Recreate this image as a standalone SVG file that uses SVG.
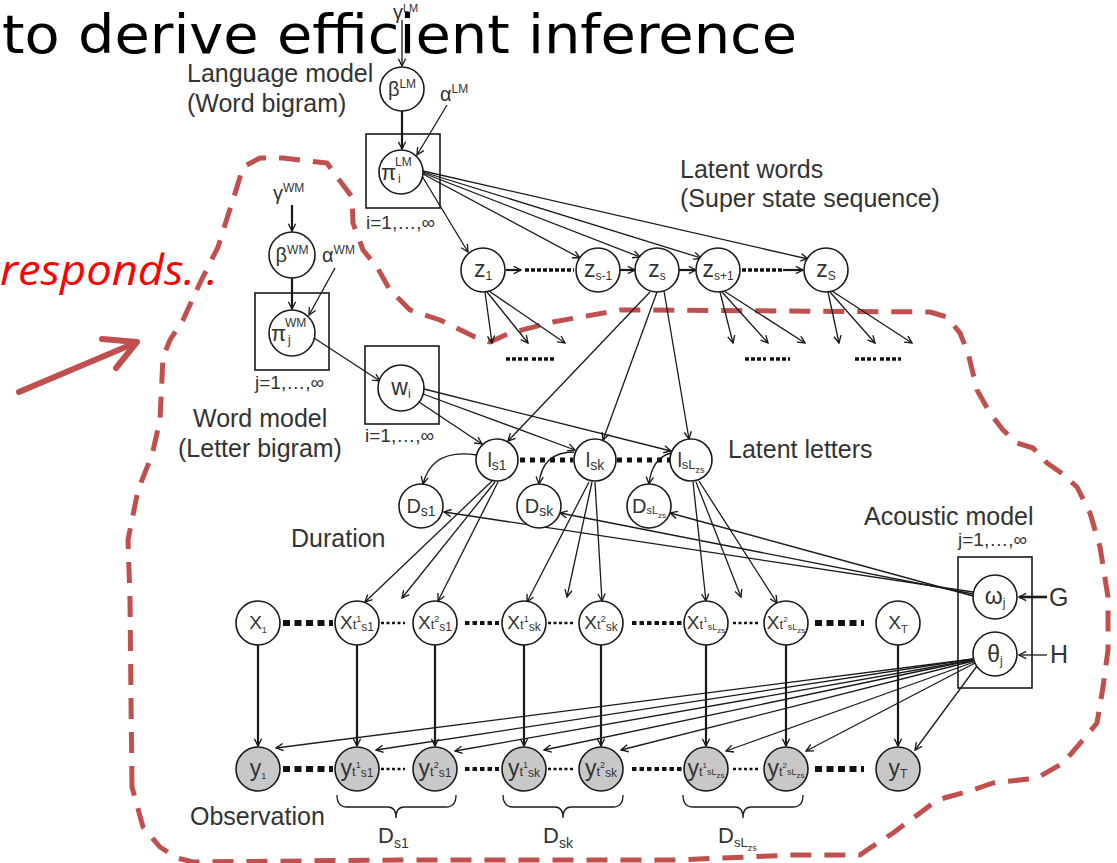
<svg xmlns="http://www.w3.org/2000/svg" width="1117" height="863" viewBox="0 0 1117 863">
<style>
.t{font-family:"Liberation Sans",Arial,sans-serif;fill:#333}
.lbl{font-size:25px}
.n{font-size:20px}
.z{font-size:23px}
.sm{font-size:19px}
.f13{font-size:13px}.f11{font-size:11px}.f12{font-size:12px}.f9{font-size:9px}.f8{font-size:8px}.f14{font-size:14px}
.c{fill:#fff;stroke:#1a1a1a;stroke-width:1.6}
.g{fill:#c8c8c8;stroke:#1a1a1a;stroke-width:1.6}
.box{fill:none;stroke:#1a1a1a;stroke-width:1.6}
.e{fill:none;stroke:#1a1a1a;stroke-width:1.3;marker-end:url(#ah)}
.ek{fill:none;stroke:#1a1a1a;stroke-width:2.2;marker-end:url(#ah)}
.l{fill:none;stroke:#1a1a1a;stroke-width:1.3}
.dk{stroke:#111;stroke-width:6;stroke-dasharray:7 4.5}
.dm{stroke:#111;stroke-width:4;stroke-dasharray:4.5 3}
.ds{stroke:#111;stroke-width:2.5;stroke-dasharray:3 2.5}
.dz{stroke:#111;stroke-width:3.5;stroke-dasharray:4 2}
.red{fill:none;stroke:#c0504d;stroke-width:5;stroke-dasharray:21 13;stroke-linejoin:round}
</style>
<defs>
<marker id="ah" viewBox="0 0 10 10" refX="9" refY="5" markerWidth="9" markerHeight="9" markerUnits="userSpaceOnUse" orient="auto"><path d="M1,1 L9,5 L1,9" fill="none" stroke="#1a1a1a" stroke-width="1.5"/></marker>
</defs>
<rect width="1117" height="863" fill="#fff"/>

<!-- red dashed outline -->
<path class="red" d="M132,787 L131,700 L130,600 L128,540 L138,490 L152,455 L160,420 L163,357 L170,340 L183,320 L200,283 L218,247 L237,187 L243,167 L260,158 L283,158 L327,163 L337,177 L352,197 L353,223 L363,250 L377,267 L390,290 L410,310 L440,320 L475,337 L490,342 L510,333 L553,322 L620,310 L653,310 L930,312 L947,317 L960,333 L968,353 L977,390 L990,413 L1003,430 L1017,443 L1033,448 L1047,463 L1060,472 L1077,487 L1090,513 L1100,547 L1108,597 L1108,650 L1103,687 L1097,723 L1083,740 L1063,763 L1037,778 L993,783 L973,790 L937,800 L920,813 L893,833 L867,850 L860,855 L793,855 L677,860 L400,860 L193,862 L177,858 L160,847 L143,827 Z"/>
<g id="red-arrow" fill="none" stroke="#c0504d" stroke-width="6" stroke-linecap="round" stroke-linejoin="round">
<path d="M19,392 L135,343"/><path d="M102,339 L137,342 L116,368"/>
</g>

<!-- connectors -->
<g id="connectors">
<path class="e" d="M402,20 L402,66"/>
<path class="ek" d="M402,111 L402,149"/>
<path class="e" d="M447,105 L417,155"/>
<path class="e" d="M422,176 L468,252"/>
<path class="e" d="M423,174 L580,258"/>
<path class="e" d="M423,173 L640,257"/>
<path class="e" d="M423,172 L701,258"/>
<path class="e" d="M423,171 L808,259"/>
<path class="e" d="M485,292 L492,343"/><path class="e" d="M487,292 L528,343"/><path class="e" d="M489,291 L565,343"/>
<path class="e" d="M720,292 L733,343"/><path class="e" d="M722,292 L768,343"/><path class="e" d="M724,291 L805,343"/>
<path class="e" d="M828,292 L839,343"/><path class="e" d="M830,292 L875,343"/><path class="e" d="M832,291 L912,343"/>
<path class="dz" d="M506,359 L528,359 M532,359 L554,359"/><path class="dz" d="M745,359 L766,359 M770,359 L790,359"/><path class="dz" d="M855,359 L876,359 M880,359 L901,359"/>
<path class="ek" d="M506,270 L521,270"/>
<path class="dz" d="M525,270 L574,270"/>
<path class="ek" d="M620,270 L635,270"/>
<path class="ek" d="M679,270 L696,270"/>
<path class="dz" d="M742,270 L783,270"/>
<path class="ek" d="M783,270 L803,270"/>
<path class="e" d="M650,292 L508,441"/><path class="e" d="M657,292 L603,440"/><path class="e" d="M664,291 L689,439"/>
<path class="ek" d="M292,205 L292,231"/>
<path class="ek" d="M292,278 L292,309"/>
<path class="e" d="M335,268 L309,315"/>
<path class="e" d="M314,338 L380,381"/>
<path class="e" d="M419,402 L482,444"/>
<path class="e" d="M423,394 L575,450"/>
<path class="e" d="M424,389 L671,451"/>
<path class="e" d="M477,455 Q432,448 423,484"/>
<path class="e" d="M574,452 Q542,452 539,484"/>
<path class="e" d="M671,453 Q652,458 649,484"/>
<path d="M520,460 L573,460" style="stroke:#111;stroke-width:5;stroke-dasharray:5 5"/>
<path d="M617,460 L670,460" style="stroke:#111;stroke-width:5;stroke-dasharray:5 5"/>
<path class="e" d="M492,481 L365,602"/><path class="e" d="M495,482 L402,598"/><path class="e" d="M498,482 L438,601"/>
<path class="e" d="M589,482 L527,602"/><path class="e" d="M592,482 L567,597"/><path class="e" d="M595,482 L602,601"/>
<path class="e" d="M693,482 L706,601"/><path class="e" d="M696,482 L741,597"/><path class="e" d="M699,481 L777,603"/>
<path class="e" d="M973,592 L444,512"/>
<path class="e" d="M973,594 L560,513"/>
<path class="e" d="M973,596 L670,513"/>
<path class="dk" d="M283,623 L333,623"/><path class="ds" d="M381,623 L405,623"/><path class="dm" d="M465,623 L499,623"/><path class="ds" d="M548,623 L573,623"/><path class="dm" d="M632,623 L682,623"/><path class="ds" d="M733,623 L759,623"/><path class="dk" d="M815,623 L864,623"/>
<path class="dk" d="M283,769 L333,769"/><path class="ds" d="M381,769 L405,769"/><path class="dm" d="M465,769 L499,769"/><path class="ds" d="M548,769 L573,769"/><path class="dm" d="M632,769 L682,769"/><path class="ds" d="M733,769 L759,769"/><path class="dk" d="M815,769 L864,769"/>
<path class="ek" d="M258,645 L258,746"/><path class="ek" d="M357,645 L357,746"/><path class="ek" d="M435,645 L435,746"/><path class="ek" d="M524,645 L524,746"/><path class="ek" d="M601,645 L601,746"/><path class="ek" d="M706,645 L706,746"/><path class="ek" d="M786,645 L786,746"/><path class="ek" d="M898,645 L898,746"/>
<path class="e" d="M973,659 L276,748"/>
<path class="e" d="M973,659 L376,750"/>
<path class="e" d="M973,660 L455,751"/>
<path class="e" d="M973,660 L544,750"/>
<path class="e" d="M973,661 L621,750"/>
<path class="e" d="M974,662 L726,751"/>
<path class="e" d="M975,663 L806,751"/>
<path class="e" d="M977,666 L915,750"/>
<path class="ek" d="M1047,597 L1019,597" style="stroke-width:2.6"/>
<path class="e" d="M1047,655 L1019,655"/>
<path class="l" d="M337,795 Q337,807 347,807 L388,807 Q396,807 396,818 Q396,807 404,807 L446,807 Q456,807 456,795"/>
<path class="l" d="M503,795 Q503,807 513,807 L555,807 Q563,807 563,818 Q563,807 571,807 L613,807 Q623,807 623,795"/>
<path class="l" d="M683,795 Q683,807 693,807 L735,807 Q743,807 743,818 Q743,807 751,807 L793,807 Q803,807 803,795"/>
</g>

<!-- Language model -->
<g id="gammaLM"><text class="t n" x="393" y="19">γ<tspan class="f11" dy="-7">LM</tspan></text></g>
<g id="betaLM"><circle class="c" cx="402" cy="89" r="22"/><text class="t n" x="402" y="96" text-anchor="middle">β<tspan class="f12" dy="-8">LM</tspan></text></g>
<g id="alphaLM"><text class="t n" x="440" y="101">α<tspan class="f12" dy="-8">LM</tspan></text></g>
<g id="piLM"><rect class="box" x="366" y="134" width="74" height="74"/><circle class="c" cx="401" cy="172" r="22"/>
<text class="t" x="381" y="180" font-size="22">π</text><text class="t f12" x="395" y="166">LM</text><text class="t f12" x="398" y="183">i</text>
<text class="t sm" x="366" y="229">i=1,…,∞</text></g>
<g id="lm-label"><text class="t lbl" x="187" y="82">Language model</text><text class="t lbl" x="187" y="112">(Word bigram)</text></g>

<!-- latent words -->
<g id="z1"><circle class="c" cx="483" cy="270" r="22"/><text class="t z" x="483" y="277" text-anchor="middle">z<tspan class="f12" dy="3">1</tspan></text></g>
<g id="zs-1"><circle class="c" cx="598" cy="270" r="22"/><text class="t z" x="598" y="277" text-anchor="middle">z<tspan class="f12" dy="3">s-1</tspan></text></g>
<g id="zs"><circle class="c" cx="657" cy="270" r="22"/><text class="t z" x="657" y="277" text-anchor="middle">z<tspan class="f12" dy="3">s</tspan></text></g>
<g id="zs+1"><circle class="c" cx="718" cy="270" r="22"/><text class="t z" x="718" y="277" text-anchor="middle">z<tspan class="f12" dy="3">s+1</tspan></text></g>
<g id="zS"><circle class="c" cx="826" cy="270" r="22"/><text class="t z" x="826" y="277" text-anchor="middle">z<tspan class="f12" dy="3">S</tspan></text></g>
<g id="lw-label"><text class="t lbl" x="680" y="178">Latent words</text><text class="t lbl" x="680" y="207">(Super state sequence)</text></g>

<!-- Word model -->
<g id="gammaWM"><text class="t n" x="273" y="200">γ<tspan class="f12" dy="-8">WM</tspan></text></g>
<g id="betaWM"><circle class="c" cx="292" cy="255" r="23"/><text class="t n" x="292" y="262" text-anchor="middle">β<tspan class="f12" dy="-8">WM</tspan></text></g>
<g id="alphaWM"><text class="t n" x="322" y="262">α<tspan class="f12" dy="-8">WM</tspan></text></g>
<g id="piWM"><rect class="box" x="255" y="293" width="74" height="77"/><circle class="c" cx="292" cy="333" r="23"/>
<text class="t" x="271" y="341" font-size="22">π</text><text class="t f12" x="285" y="327">WM</text><text class="t f12" x="288" y="344">j</text>
<text class="t sm" x="255" y="389">j=1,…,∞</text></g>
<g id="wm-label"><text class="t lbl" x="193" y="427">Word model</text><text class="t lbl" x="178" y="457">(Letter bigram)</text></g>
<g id="wi"><rect class="box" x="365" y="346" width="74" height="78"/><circle class="c" cx="401" cy="388" r="23"/><text class="t z" x="401" y="395" text-anchor="middle">w<tspan class="f12" dy="3">i</tspan></text>
<text class="t sm" x="365" y="442">i=1,…,∞</text></g>

<!-- latent letters -->
<g id="ls1"><circle class="c" cx="497" cy="460" r="21"/><text class="t n" x="497" y="467" text-anchor="middle">l<tspan class="f14" dy="3">s1</tspan></text></g>
<g id="lsk"><circle class="c" cx="595" cy="460" r="21"/><text class="t n" x="595" y="467" text-anchor="middle">l<tspan class="f14" dy="3">sk</tspan></text></g>
<g id="lsL"><circle class="c" cx="691" cy="460" r="21"/><text class="t n" x="691" y="467" text-anchor="middle">l<tspan class="f13" dy="2">sL</tspan><tspan class="f9" dy="4">zs</tspan></text></g>
<g id="ll-label"><text class="t lbl" x="728" y="458">Latent letters</text></g>
<g id="Ds1"><circle class="c" cx="421" cy="506" r="22"/><text class="t n" x="421" y="513" text-anchor="middle">D<tspan class="f14" dy="3">s1</tspan></text></g>
<g id="Dsk"><circle class="c" cx="539" cy="506" r="22"/><text class="t n" x="539" y="513" text-anchor="middle">D<tspan class="f14" dy="3">sk</tspan></text></g>
<g id="DsL"><circle class="c" cx="649" cy="506" r="22"/><text class="t n" x="649" y="513" text-anchor="middle">D<tspan class="f11" dy="1">sL</tspan><tspan class="f8" dy="4">zs</tspan></text></g>
<g id="dur-label"><text class="t lbl" x="291" y="547">Duration</text></g>

<!-- acoustic model -->
<g id="acoustic"><text class="t lbl" x="864" y="525">Acoustic model</text><text class="t sm" x="958" y="546">j=1,…,∞</text>
<rect class="box" x="958" y="557" width="74" height="131"/></g>
<g id="omega"><circle class="c" cx="995" cy="597" r="22"/><text class="t z" x="995" y="604" text-anchor="middle">ω<tspan class="f12" dy="3">j</tspan></text></g>
<g id="theta"><circle class="c" cx="995" cy="654" r="22"/><text class="t z" x="995" y="662" text-anchor="middle">θ<tspan class="f12" dy="3">j</tspan></text></g>
<g id="G"><text class="t lbl" x="1049" y="606">G</text></g>
<g id="H"><text class="t lbl" x="1050" y="663">H</text></g>

<!-- X row -->
<g id="x1"><circle class="c" cx="258" cy="623" r="22"/><text class="t" x="258" y="629" font-size="19" text-anchor="middle">X<tspan class="f9" dy="4">1</tspan></text></g>
<g id="xt1s1"><circle class="c" cx="357" cy="623" r="22"/><text class="t" x="357" y="629" font-size="19" text-anchor="middle">X<tspan class="f13">t</tspan><tspan class="f9" dy="-7">1</tspan><tspan class="f12" dy="9">s1</tspan></text></g>
<g id="xt2s1"><circle class="c" cx="435" cy="623" r="22"/><text class="t" x="435" y="629" font-size="19" text-anchor="middle">X<tspan class="f13">t</tspan><tspan class="f9" dy="-7">2</tspan><tspan class="f12" dy="9">s1</tspan></text></g>
<g id="xt1sk"><circle class="c" cx="524" cy="623" r="22"/><text class="t" x="524" y="629" font-size="19" text-anchor="middle">X<tspan class="f13">t</tspan><tspan class="f9" dy="-7">1</tspan><tspan class="f12" dy="9">sk</tspan></text></g>
<g id="xt2sk"><circle class="c" cx="601" cy="623" r="22"/><text class="t" x="601" y="629" font-size="19" text-anchor="middle">X<tspan class="f13">t</tspan><tspan class="f9" dy="-7">2</tspan><tspan class="f12" dy="9">sk</tspan></text></g>
<g id="xt1sL"><circle class="c" cx="706" cy="623" r="22"/><text class="t" x="706" y="629" font-size="19" text-anchor="middle">X<tspan class="f13">t</tspan><tspan class="f8" dy="-7">1</tspan><tspan class="f9" dy="8">sL</tspan><tspan class="f8" dy="3">zs</tspan></text></g>
<g id="xt2sL"><circle class="c" cx="786" cy="623" r="22"/><text class="t" x="786" y="629" font-size="19" text-anchor="middle">X<tspan class="f13">t</tspan><tspan class="f8" dy="-7">2</tspan><tspan class="f9" dy="8">sL</tspan><tspan class="f8" dy="3">zs</tspan></text></g>
<g id="xT"><circle class="c" cx="898" cy="623" r="22"/><text class="t" x="898" y="629" font-size="19" text-anchor="middle">X<tspan class="f11" dy="4">T</tspan></text></g>

<!-- y row -->
<g id="y1"><circle class="g" cx="258" cy="769" r="22"/><text class="t" x="258" y="776" font-size="23" text-anchor="middle">y<tspan class="f9" dy="3">1</tspan></text></g>
<g id="yt1s1"><circle class="g" cx="357" cy="769" r="22"/><text class="t" x="357" y="776" font-size="23" text-anchor="middle">y<tspan class="f13">t</tspan><tspan class="f9" dy="-8">1</tspan><tspan class="f12" dy="9">s1</tspan></text></g>
<g id="yt2s1"><circle class="g" cx="435" cy="769" r="22"/><text class="t" x="435" y="776" font-size="23" text-anchor="middle">y<tspan class="f13">t</tspan><tspan class="f9" dy="-8">2</tspan><tspan class="f12" dy="9">s1</tspan></text></g>
<g id="yt1sk"><circle class="g" cx="524" cy="769" r="22"/><text class="t" x="524" y="776" font-size="23" text-anchor="middle">y<tspan class="f13">t</tspan><tspan class="f9" dy="-8">1</tspan><tspan class="f12" dy="9">sk</tspan></text></g>
<g id="yt2sk"><circle class="g" cx="601" cy="769" r="22"/><text class="t" x="601" y="776" font-size="23" text-anchor="middle">y<tspan class="f13">t</tspan><tspan class="f9" dy="-8">2</tspan><tspan class="f12" dy="9">sk</tspan></text></g>
<g id="yt1sL"><circle class="g" cx="706" cy="769" r="22"/><text class="t" x="706" y="776" font-size="23" text-anchor="middle">y<tspan class="f13">t</tspan><tspan class="f8" dy="-8">1</tspan><tspan class="f9" dy="7">sL</tspan><tspan class="f8" dy="3">zs</tspan></text></g>
<g id="yt2sL"><circle class="g" cx="786" cy="769" r="22"/><text class="t" x="786" y="776" font-size="23" text-anchor="middle">y<tspan class="f13">t</tspan><tspan class="f8" dy="-8">2</tspan><tspan class="f9" dy="7">sL</tspan><tspan class="f8" dy="3">zs</tspan></text></g>
<g id="yT"><circle class="g" cx="898" cy="769" r="22"/><text class="t" x="898" y="776" font-size="23" text-anchor="middle">y<tspan class="f12" dy="2">T</tspan></text></g>
<g id="obs-label"><text class="t lbl" x="190" y="825">Observation</text></g>
<g id="brace-labels">
<text class="t" x="378" y="843" font-size="22">D<tspan class="f14" dy="5">s1</tspan></text>
<text class="t" x="543" y="843" font-size="22">D<tspan class="f14" dy="5">sk</tspan></text>
<text class="t" x="718" y="843" font-size="22">D<tspan class="f13" dy="4">sL</tspan><tspan class="f9" dy="4">zs</tspan></text>
</g>

<!-- slide overlay text -->
<g id="title"><text x="2" y="53" font-family="DejaVu Sans, sans-serif" font-size="54" fill="#000" textLength="795" lengthAdjust="spacingAndGlyphs">to derive efficient inference</text></g>
<g id="red-text"><text x="0" y="285" font-family="Open Sans, sans-serif" font-style="italic" font-size="42" fill="#ff0000" textLength="218" lengthAdjust="spacingAndGlyphs">responds. .</text></g>
</svg>
